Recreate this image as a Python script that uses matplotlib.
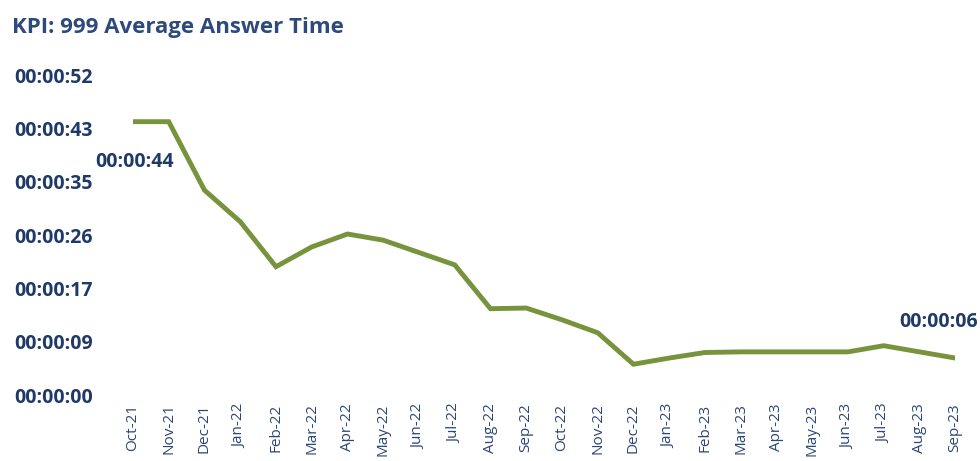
import matplotlib.pyplot as plt
from matplotlib.ticker import FuncFormatter, MultipleLocator

months = ["Oct-21", "Nov-21", "Dec-21", "Jan-22", "Feb-22", "Mar-22", "Apr-22", "May-22",
          "Jun-22", "Jul-22", "Aug-22", "Sep-22", "Oct-22", "Nov-22", "Dec-22", "Jan-23",
          "Feb-23", "Mar-23", "Apr-23", "May-23", "Jun-23", "Jul-23", "Aug-23", "Sep-23"]
# average answer time in seconds
answer_secs = [44.3, 44.3, 33.2, 28.1, 20.8, 24.0, 26.1, 25.1, 23.1, 21.1, 14.0, 14.1,
               12.2, 10.1, 5.0, 6.0, 6.9, 7.0, 7.0, 7.0, 7.0, 8.0, 7.0, 6.0]

NAVY = "#1f3a68"
GREEN = "#77933c"
FONT = "Open Sans"


def hms(v, pos=None):
    s = int(round(v))
    return f"{s // 3600:02d}:{(s % 3600) // 60:02d}:{s % 60:02d}"


fig = plt.figure(figsize=(9.8, 4.61), dpi=100)
ax = fig.add_axes([0.1357, 0.143, 0.839, 0.694])

x = list(range(len(months)))
ax.plot(x, answer_secs, color=GREEN, linewidth=3.5, solid_joinstyle="miter")

ax.set_xlim(0, len(months) - 1)
ax.set_ylim(0, 51.84)
ax.yaxis.set_major_locator(MultipleLocator(8.64))
ax.yaxis.set_major_formatter(FuncFormatter(hms))

ax.set_xticks(x)
ax.set_xticklabels(months, rotation=90, fontsize=11, color="#2b4677", family=FONT)
for lbl in ax.get_yticklabels():
    lbl.set_fontfamily(FONT)
    lbl.set_fontweight("bold")
    lbl.set_fontsize(14)
    lbl.set_color(NAVY)
ax.tick_params(axis="y", length=0, pad=29)
ax.tick_params(axis="x", length=0, pad=6)
for sp in ax.spines.values():
    sp.set_visible(False)

# first and last values
ax.annotate(hms(answer_secs[0]), (0, answer_secs[0]), xytext=(-27, -29),
            textcoords="offset points", fontsize=14, fontweight="bold",
            color=NAVY, family=FONT, ha="left", va="center")
ax.annotate(hms(answer_secs[-1]), (len(months) - 1, answer_secs[-1]), xytext=(16, 26),
            textcoords="offset points", fontsize=14, fontweight="bold",
            color=NAVY, family=FONT, ha="right", va="center")

fig.text(0.012, 0.94, "KPI: 999 Average Answer Time", fontsize=16, fontweight="bold",
         color="#2e4a7d", family=FONT, va="center")

fig.savefig("out.png", dpi=100, facecolor="white")
